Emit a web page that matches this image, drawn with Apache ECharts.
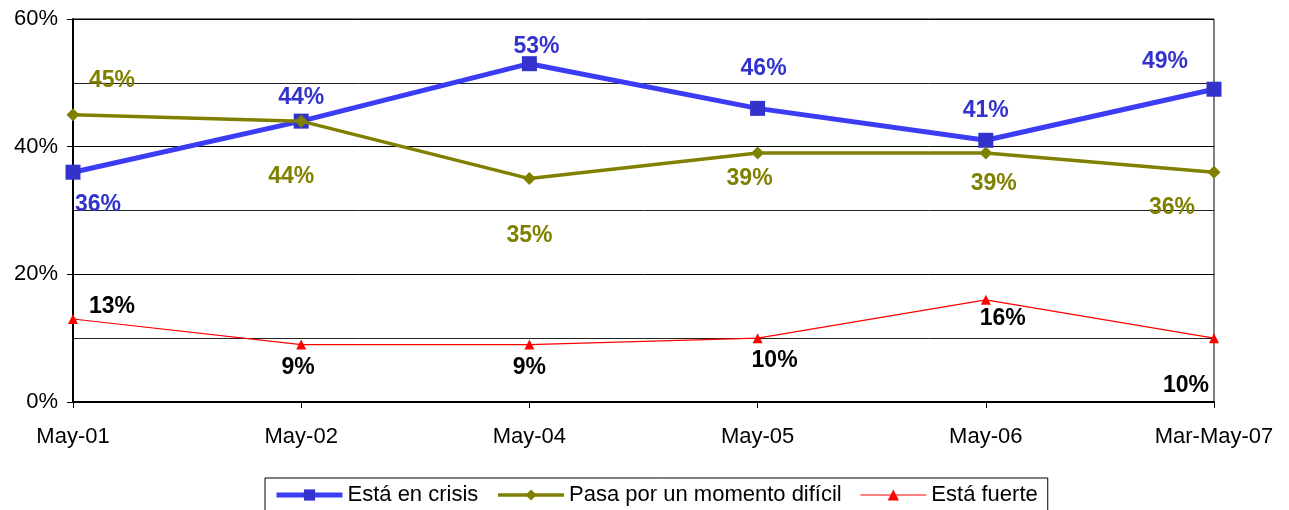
<!DOCTYPE html>
<html>
<head>
<meta charset="utf-8">
<script src="https://cdn.jsdelivr.net/npm/echarts@6/dist/echarts.min.js"></script>
<style>
  html, body { margin: 0; padding: 0; background: #fff; }
  #chart { width: 1289px; height: 510px; }
</style>
</head>
<body>
<div id="chart"></div>
<script>
// data
const categories = ['May-01', 'May-02', 'May-04', 'May-05', 'May-06', 'Mar-May-07'];
const crisis = [36, 44, 53, 46, 41, 49];
const dificil = [45, 44, 35, 39, 39, 36];
const fuerte = [13, 9, 9, 10, 16, 10];

// where each value label sits relative to its point
const crisisOffsets = [[25, 32], [0, -23], [7, -17], [6, -40], [0, -30], [-49, -28]];
const dificilOffsets = [[39, -34], [-10, 56], [0, 57], [-8, 26], [8, 31], [-42, 35]];
const fuerteOffsets = [[39, -12], [-3, 23], [0, 23], [17, 22], [17, 19], [-28, 47]];

function withLabels(values, offsets) {
    return values.map(function (v, i) {
        return { value: v, label: { offset: offsets[i] } };
    });
}

var chartDom = document.getElementById('chart');
var myChart = echarts.init(chartDom, null, { renderer: 'canvas' });
var font = 'Liberation Sans, Arial, sans-serif';

var option = {
    animation: false,
    textStyle: { fontFamily: font },
    grid: {
        left: 73,
        right: 75,
        top: 19,
        bottom: 108,
        show: true,
        borderColor: '#000',
        borderWidth: 1
    },
    legend: {
        top: 478,
        left: 265,
        borderColor: '#000',
        borderWidth: 1,
        padding: [6, 10, 6, 9],
        itemGap: 18,
        itemWidth: 66,
        itemHeight: 14,
        textStyle: { fontSize: 22, color: '#000', fontFamily: font },
        data: [
            { name: 'Está en crisis', lineStyle: { width: 5 } },
            { name: 'Pasa por un momento difícil', lineStyle: { width: 3.5 } },
            { name: 'Está fuerte', lineStyle: { width: 1.2 } }
        ]
    },
    xAxis: {
        type: 'category',
        data: categories,
        boundaryGap: false,
        axisLine: { lineStyle: { color: '#000', width: 2 } },
        axisTick: { show: true, length: 6, lineStyle: { color: '#000' } },
        axisLabel: { color: '#000', fontSize: 22, margin: 24, fontFamily: font },
        splitLine: { show: false }
    },
    yAxis: {
        type: 'value',
        min: 0,
        max: 60,
        interval: 20,
        axisLine: { show: true, lineStyle: { color: '#000', width: 2 } },
        axisTick: { show: true, length: 6, lineStyle: { color: '#000' } },
        axisLabel: { color: '#000', fontSize: 22, margin: 15, formatter: '{value}%', fontFamily: font },
        splitLine: { show: true, lineStyle: { color: '#000', width: 1 } },
        minorTick: { show: false, splitNumber: 2 },
        minorSplitLine: { show: true, lineStyle: { color: '#222', width: 1 } }
    },
    series: [
        {
            name: 'Está en crisis',
            type: 'line',
            data: withLabels(crisis, crisisOffsets),
            symbol: 'rect',
            symbolSize: 15,
            itemStyle: { color: '#3333CC' },
            lineStyle: { color: '#3C3CF5', width: 5 },
            label: {
                show: true,
                position: 'inside',
                formatter: '{c}%',
                color: '#3333CC',
                fontSize: 23,
                fontWeight: 'bold',
                fontFamily: font
            },
            z: 4
        },
        {
            name: 'Pasa por un momento difícil',
            type: 'line',
            data: withLabels(dificil, dificilOffsets),
            symbol: 'diamond',
            symbolSize: 13,
            itemStyle: { color: '#808000' },
            lineStyle: { color: '#808000', width: 3.5 },
            label: {
                show: true,
                position: 'inside',
                formatter: '{c}%',
                color: '#808000',
                fontSize: 23,
                fontWeight: 'bold',
                fontFamily: font
            },
            z: 5
        },
        {
            name: 'Está fuerte',
            type: 'line',
            data: withLabels(fuerte, fuerteOffsets),
            symbol: 'triangle',
            symbolSize: 10,
            itemStyle: { color: '#FF0000' },
            lineStyle: { color: '#FF0000', width: 1.2 },
            label: {
                show: true,
                position: 'inside',
                formatter: '{c}%',
                color: '#000',
                fontSize: 23,
                fontWeight: 'bold',
                fontFamily: font
            },
            z: 3
        }
    ]
};

option && myChart.setOption(option);
window.addEventListener('resize', myChart.resize);
</script>
</body>
</html>
